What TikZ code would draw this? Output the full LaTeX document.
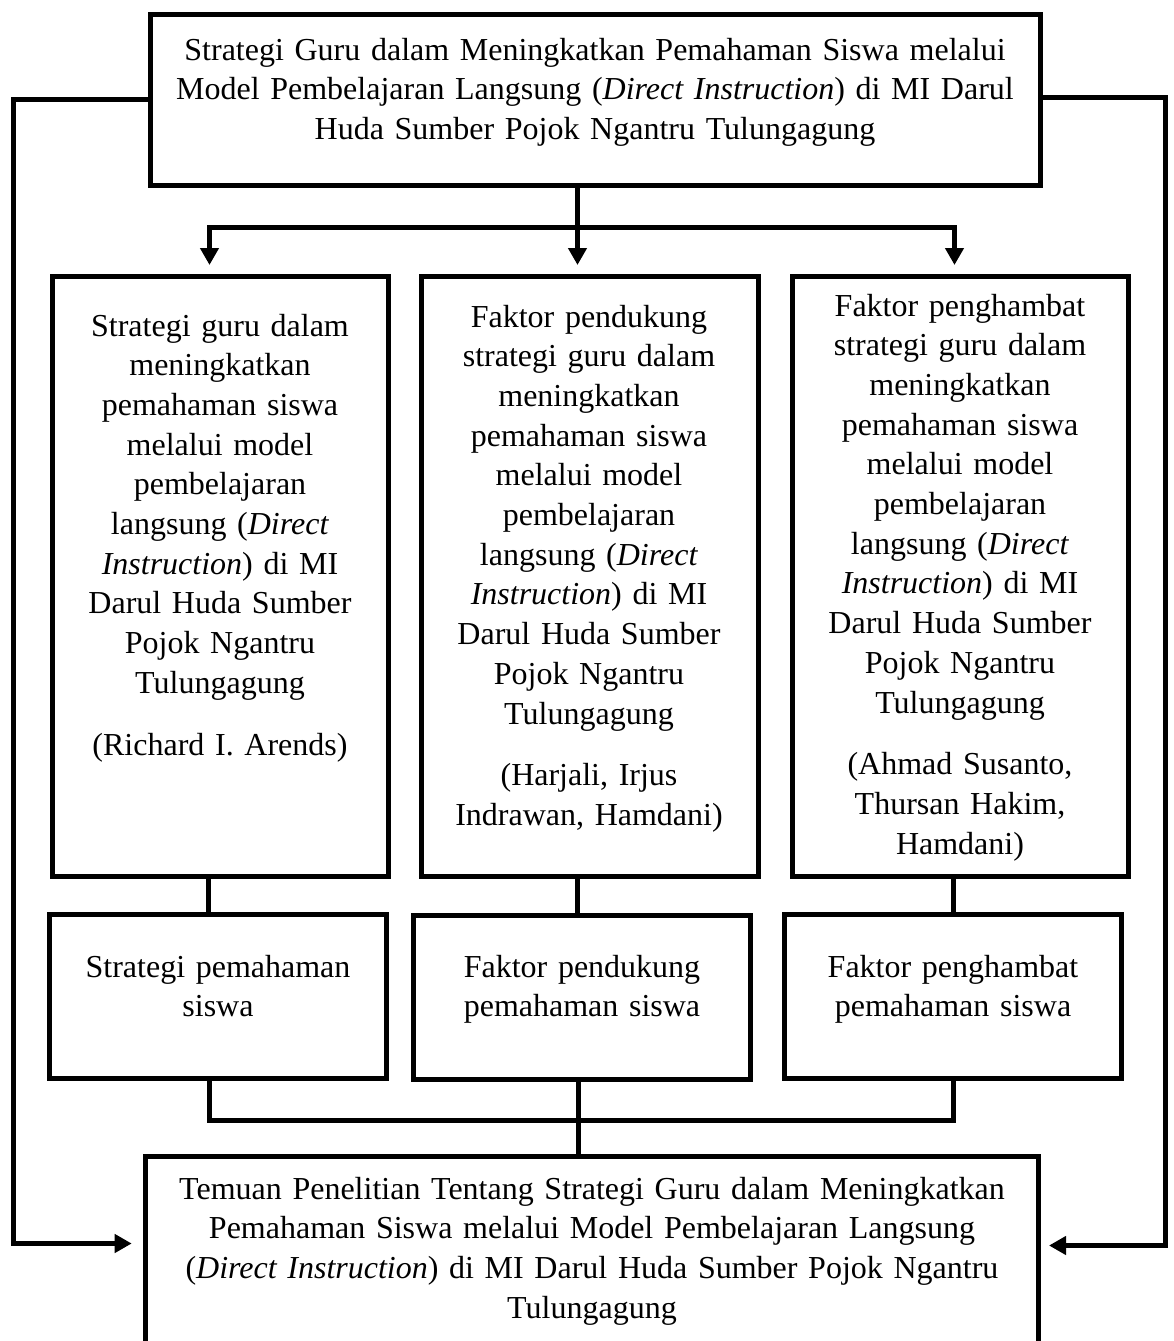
\documentclass[tikz,border=0pt]{standalone}
\usepackage{fontspec}
\setmainfont{Liberation Serif}
\usetikzlibrary{arrows.meta}
\begin{document}
\begin{tikzpicture}[x=1pt,y=-1pt,
  box/.style={draw, line width=5pt, outer sep=0pt, inner sep=0pt, anchor=north west},
  txt/.style={anchor=base, align=center, text width=#1, inner sep=0pt, font=\fontsize{32}{39.7}\selectfont},
  conn/.style={line width=5pt},
  arr/.style={line width=5pt, -{Triangle[width=18pt,length=17pt]}}
]
\path[use as bounding box] (0,0) rectangle (1174,1341);
\clip (0,0) rectangle (1174,1341);

% boxes
\node[box, minimum width=890pt, minimum height=171pt] (top) at (150,14) {};
\node[box, minimum width=336pt, minimum height=600pt] (b1) at (52,276) {};
\node[box, minimum width=337pt, minimum height=600pt] (b2) at (421,276) {};
\node[box, minimum width=336pt, minimum height=600pt] (b3) at (792,276) {};
\node[box, minimum width=337pt, minimum height=164pt] (s1) at (49.5,914.5) {};
\node[box, minimum width=337pt, minimum height=164pt] (s2) at (413.5,915) {};
\node[box, minimum width=337pt, minimum height=164pt] (s3) at (784.5,914.5) {};
\node[box, minimum width=893pt, minimum height=220pt] (bot) at (145.5,1156.5) {};

% texts
\node[txt=880pt] (toptext) at (595,60) {Strategi Guru dalam Meningkatkan Pemahaman Siswa melalui\\ Model Pembelajaran Langsung (\textit{Direct Instruction}) di MI Darul\\ Huda Sumber Pojok Ngantru Tulungagung};
\node[txt=330pt] (t1) at (220,336) {Strategi guru dalam\\ meningkatkan\\ pemahaman siswa\\ melalui model\\ pembelajaran\\ langsung (\textit{Direct}\\ \textit{Instruction}) di MI\\ Darul Huda Sumber\\ Pojok Ngantru\\ Tulungagung\\[22pt] (Richard I. Arends)};
\node[txt=330pt] (t2) at (589,327) {Faktor pendukung\\ strategi guru dalam\\ meningkatkan\\ pemahaman siswa\\ melalui model\\ pembelajaran\\ langsung (\textit{Direct}\\ \textit{Instruction}) di MI\\ Darul Huda Sumber\\ Pojok Ngantru\\ Tulungagung\\[22pt] (Harjali, Irjus\\ Indrawan, Hamdani)};
\node[txt=330pt] (t3) at (960,316) {Faktor penghambat\\ strategi guru dalam\\ meningkatkan\\ pemahaman siswa\\ melalui model\\ pembelajaran\\ langsung (\textit{Direct}\\ \textit{Instruction}) di MI\\ Darul Huda Sumber\\ Pojok Ngantru\\ Tulungagung\\[22pt] (Ahmad Susanto,\\ Thursan Hakim,\\ Hamdani)};
\node[txt=330pt] (st1) at (218,977) {Strategi pemahaman\\ siswa};
\node[txt=330pt] (st2) at (582,977) {Faktor pendukung\\ pemahaman siswa};
\node[txt=330pt] (st3) at (953,977) {Faktor penghambat\\ pemahaman siswa};
\node[txt=880pt] (bottext) at (592,1199) {Temuan Penelitian Tentang Strategi Guru dalam Meningkatkan\\ Pemahaman Siswa melalui Model Pembelajaran Langsung\\ (\textit{Direct Instruction}) di MI Darul Huda Sumber Pojok Ngantru\\ Tulungagung};

% coordinates
\coordinate (jt) at (577.5,227.5);
\coordinate (a1) at (209.5,265);
\coordinate (a2) at (577.5,265);
\coordinate (a3) at (954.5,265);
\coordinate (m1) at (208.5,0);
\coordinate (m2) at (577.5,0);
\coordinate (m3) at (953.5,0);
\coordinate (n1) at (209.5,0);
\coordinate (n2) at (578.5,0);
\coordinate (n3) at (953.5,0);
\coordinate (jb) at (0,1120);
\coordinate (L) at (13.5,0);
\coordinate (R) at (1165.5,0);
\coordinate (yl) at (0,99.5);
\coordinate (yr) at (0,97.5);
\coordinate (al) at (131.7,1243.5);
\coordinate (ar) at (1049,1245.5);

% connectors
\draw[arr] (top.south -| a2) -- (a2);
\draw[arr] (jt) -| (a1);
\draw[arr] (jt) -| (a3);
\draw[conn] (b1.south -| m1) -- (s1.north -| m1);
\draw[conn] (b2.south -| m2) -- (s2.north -| m2);
\draw[conn] (b3.south -| m3) -- (s3.north -| m3);
\draw[conn] (s1.south -| n1) |- (n3 |- jb) -- (s3.south -| n3);
\draw[conn] (s2.south -| n2) -- (bot.north -| n2);
\draw[arr] (top.west |- yl) -- (L |- yl) -- (L |- al) -- (al);
\draw[arr] (top.east |- yr) -- (R |- yr) -- (R |- ar) -- (ar);
\end{tikzpicture}
\end{document}
